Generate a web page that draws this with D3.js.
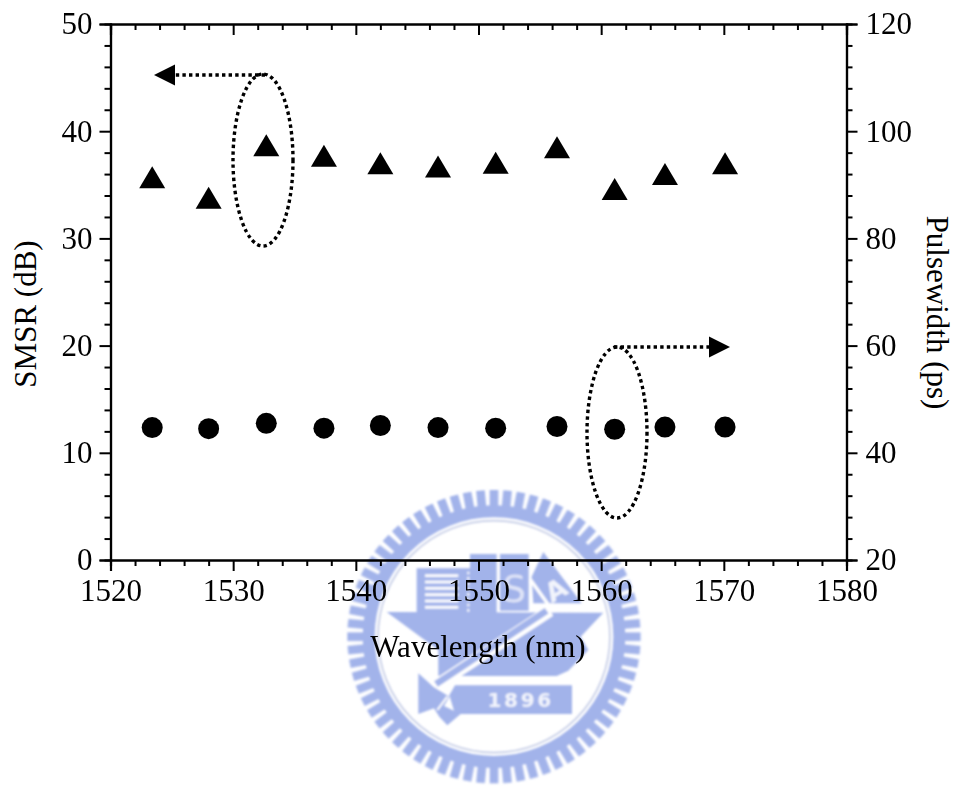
<!DOCTYPE html>
<html><head><meta charset="utf-8">
<script src="https://cdn.jsdelivr.net/npm/d3@7"></script>
<style>
html,body{margin:0;padding:0;background:#fff}
svg{display:block}
text{font-family:"Liberation Serif","Times New Roman",serif;fill:#000}
</style></head><body>
<svg id="c" width="956" height="789"></svg>
<script>
const wavelengths=[1523.4,1528.0,1532.7,1537.4,1542.0,1546.7,1551.4,1556.4,1561.1,1565.2,1570.1];
const smsr=[35.7,33.8,38.7,37.7,37.0,36.7,37.05,38.5,34.6,36.0,37.0];
const pulsewidth=[44.7,44.5,45.5,44.6,45.1,44.7,44.6,44.9,44.4,44.8,44.8];
const xMajor=[1520,1530,1540,1550,1560,1570,1580];
const leftMajor=[0,10,20,30,40,50];
const rightMajor=[20,40,60,80,100,120];
const xLabel="Wavelength (nm)", leftLabel="SMSR (dB)", rightLabel="Pulsewidth (ps)";

const L=110.5,R=846.5,T=24,B=560,FS=31;
const svg=d3.select("#c");
const x=d3.scaleLinear().domain([1520,1580]).range([L,R]);
const yL=d3.scaleLinear().domain([0,50]).range([B,T]);
const yR=d3.scaleLinear().domain([20,120]).range([B,T]);

/* watermark */
const blue="#a2b3ea", pale="#c4cce6";
svg.append("defs").append("filter").attr("id","soft").append("feGaussianBlur").attr("stdDeviation",2.4);
const w=svg.append("g").attr("transform","translate(340,480) scale(0.3333)").attr("filter","url(#soft)");
const cx=462,cy=470;
const toothCount=68;
w.selectAll("rect.tooth").data(d3.range(toothCount)).join("rect").attr("class","tooth")
 .attr("x",-13).attr("width",26).attr("y",-440).attr("height",60).attr("fill",blue)
 .attr("transform",d=>`translate(${cx},${cy}) rotate(${d*360/toothCount})`);
w.append("circle").attr("cx",cx).attr("cy",cy).attr("r",376).attr("fill","none").attr("stroke",blue).attr("stroke-width",36);
w.append("circle").attr("cx",cx).attr("cy",cy).attr("r",348).attr("fill","none").attr("stroke",pale).attr("stroke-width",5);
const e=w.append("g").attr("transform","translate(180,180)");
const poly=(pts,fill)=>e.append("polygon").attr("points",pts).attr("fill",fill);
poly("50,85 210,85 210,42 290,42 290,220 50,220",blue);
d3.range(103,215,19).forEach(v=>e.append("rect").attr("x",75).attr("width",100).attr("y",v).attr("height",8).attr("fill","#fff"));
e.append("line").attr("x1",205).attr("y1",95).attr("x2",205).attr("y2",215).attr("stroke","#fff").attr("stroke-width",6).attr("stroke-dasharray","8 8");
poly("300,42 386,42 386,212 300,212",blue);
e.append("text").attr("x",343).attr("y",186).attr("text-anchor","middle").attr("font-size",110).style("font-family","'DejaVu Sans'").style("fill","#dfe4f7").text("S");
poly("430,36 545,190 400,190 395,110",blue);
e.append("text").attr("x",468).attr("y",178).attr("text-anchor","middle").attr("font-size",80).attr("font-weight","bold").attr("transform","rotate(-30 468 150)").style("font-family","'DejaVu Sans'").style("fill","#f2f4fc").text("A");
poly("-40,216 610,218 542,290 565,330 505,392 470,408 220,408 115,408 115,330",blue);
e.append("line").attr("x1",392).attr("y1",120).attr("x2",460).attr("y2",215).attr("stroke","#fff").attr("stroke-width",10);
e.append("line").attr("x1",450).attr("y1",212).attr("x2",102).attr("y2",440).attr("stroke","#fff").attr("stroke-width",36);
e.append("line").attr("x1",440).attr("y1",212).attr("x2",108).attr("y2",432).attr("stroke",blue).attr("stroke-width",20);
poly("55,400 100,440 148,470 132,498 182,522 142,556 118,530 102,505 55,522",blue);
e.append("line").attr("x1",142).attr("y1",470).attr("x2",112).attr("y2",510).attr("stroke","#fff").attr("stroke-width",6);
poly("165,436 516,436 516,522 165,522 148,466",blue);
e.append("text").attr("x",362).attr("y",502).attr("text-anchor","middle").attr("font-size",60).attr("font-weight","bold")
 .attr("letter-spacing",8).style("font-family","'DejaVu Sans'").style("fill","#f2f4fc").text("1896");

/* axes */
function axis(gen,scale,major,step,tx,opts){
  const [a,b]=scale.domain();
  const minor=d3.range(a,b+step/2,step).filter(v=>!major.includes(v));
  const g=svg.append("g").attr("transform",tx);
  g.call(gen(scale).tickValues(minor).tickSize(opts.minor).tickFormat(""));
  const g2=svg.append("g").attr("transform",tx);
  g2.call(gen(scale).tickValues(major).tickSize(opts.major).tickPadding(opts.pad||6).tickFormat(opts.labels?d3.format("d"):""));
  [g,g2].forEach(s=>{s.selectAll("path").attr("stroke","#000").attr("stroke-width",2.2);
    s.selectAll("line").attr("stroke","#000").attr("stroke-width",2);
    s.selectAll("text").attr("font-size",FS).style("font-family","'Liberation Serif'");});
  return g2;
}
axis(d3.axisBottom,x,xMajor,2,`translate(0,${B})`,{minor:6,major:11,labels:true,pad:8});
axis(d3.axisBottom,x,xMajor,2,`translate(0,${T})`,{minor:6,major:11});
axis(d3.axisLeft,yL,leftMajor,2,`translate(${L},0)`,{minor:6,major:11,labels:true,pad:7});
axis(d3.axisRight,yR,rightMajor,4,`translate(${R},0)`,{minor:6,major:11,labels:true,pad:8});

/* axis titles */
svg.append("text").attr("x",478).attr("y",657).attr("text-anchor","middle").attr("font-size",FS).text(xLabel);
svg.append("text").attr("transform","translate(36,314) rotate(-90)").attr("text-anchor","middle").attr("font-size",FS).text(leftLabel);
svg.append("text").attr("transform","translate(927,312.5) rotate(90)").attr("text-anchor","middle").attr("font-size",FS).text(rightLabel);

/* series */
const triangleMark={draw(c){c.moveTo(0,-11);c.lineTo(13,11);c.lineTo(-13,11);c.closePath();}};
svg.selectAll("path.tri").data(wavelengths).join("path").attr("class","tri")
 .attr("d",d3.symbol().type(triangleMark)).attr("fill","#000")
 .attr("transform",(d,i)=>`translate(${x(d)},${yL(smsr[i])})`);
svg.selectAll("circle.pt").data(wavelengths).join("circle").attr("class","pt")
 .attr("cx",d=>x(d)).attr("cy",(d,i)=>yR(pulsewidth[i])).attr("r",10.5).attr("fill","#000");

/* annotations */
const dot={stroke:"#000","stroke-width":3.4,"stroke-dasharray":"3.4 3.2",fill:"none"};
function dotted(s){Object.entries(dot).forEach(([k,v])=>s.attr(k,v));return s;}
dotted(svg.append("ellipse").attr("cx",263).attr("cy",160).attr("rx",30).attr("ry",86));
dotted(svg.append("line").attr("x1",265).attr("y1",75).attr("x2",175).attr("y2",75));
svg.append("polygon").attr("points","154,75 175,64.5 175,85.5").attr("fill","#000");
dotted(svg.append("ellipse").attr("cx",617).attr("cy",432.5).attr("rx",30).attr("ry",85.5));
dotted(svg.append("line").attr("x1",614).attr("y1",347).attr("x2",709).attr("y2",347));
svg.append("polygon").attr("points","730,347 709,336.5 709,357.5").attr("fill","#000");
</script>
</body></html>
